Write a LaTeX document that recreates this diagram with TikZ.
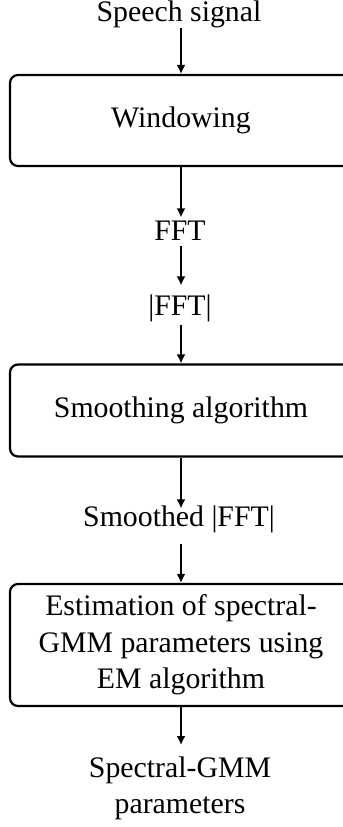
\documentclass[tikz,border=0pt]{standalone}
\usepackage{fontspec}
\setmainfont{Liberation Serif}
\usetikzlibrary{arrows.meta}
\tikzset{
  procbox/.style={draw,line width=1.1pt,rounded corners=4pt,minimum width=171pt,align=center,inner sep=0pt},
  sig/.style={inner sep=2pt,text height=0.7em,text depth=0.25em},
  flow/.style={-{Latex[length=4.5pt,width=4.5pt]},line width=0.85pt}
}
\begin{document}
\begin{tikzpicture}[x=0.5pt,y=-0.5pt,font=\fontsize{14.9}{18.2}\selectfont]
\useasboundingbox (0,0) rectangle (343,827);
\clip (0,0) rectangle (343,827);
% signal chain, top to bottom
\node[sig] (speech) at (179,16.5){Speech signal};
\node[procbox,minimum height=45.5pt] (win) at (181,120.5){Windowing};
\node[sig] (fft) at (180,236.3){FFT};
\node[sig] (absfft) at (180,311.3){|FFT|};
\node[procbox,minimum height=46pt] (smooth) at (181,410.5){Smoothing algorithm};
\node[sig] (smfft) at (179,522.3){Smoothed |FFT|};
\node[procbox,minimum height=61pt] (gmm) at (181,645){Estimation of spectral-\\GMM parameters using\\EM algorithm};
\node[inner sep=2pt,align=center,anchor=north] (params) at (180,752){Spectral-GMM\\parameters};
\draw[flow,shorten <=-1pt] (speech.south -| win) -- (win);
\draw[flow,shorten >=2.5pt] (win) -- (fft.north -| win);
\draw[flow,shorten <=-2pt,shorten >=6pt] (fft.south -| win) -- (absfft.north -| win);
\draw[flow] (absfft.south -| win) -- (smooth);
\draw[flow] (smooth) -- (smfft.north -| smooth);
\draw[flow,shorten <=4pt] (smfft.south -| smooth) -- (gmm);
\draw[flow,shorten >=3.5pt] (gmm) -- (params.north -| gmm);
\end{tikzpicture}
\end{document}
